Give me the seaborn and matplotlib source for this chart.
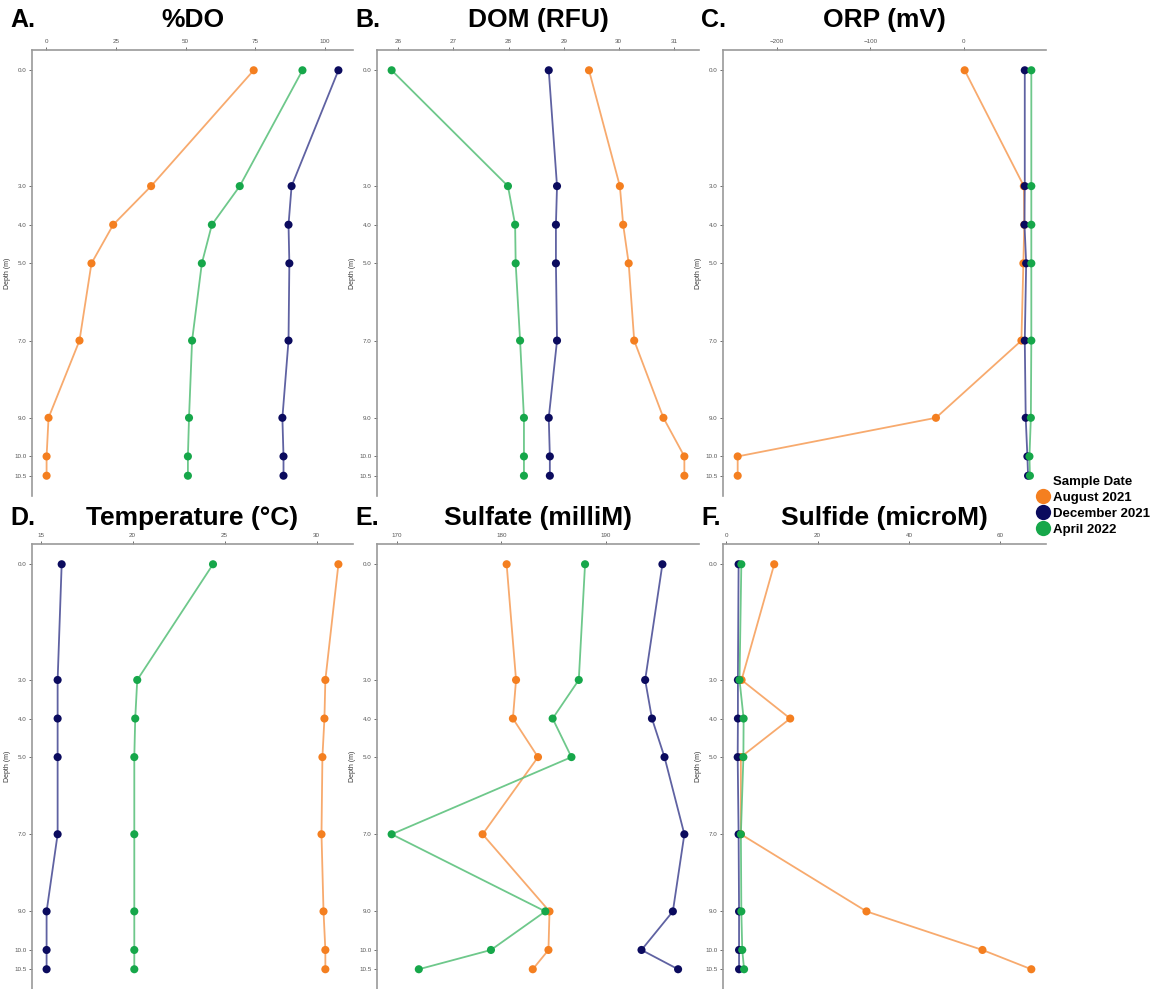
import matplotlib
matplotlib.use("Agg")
import matplotlib.pyplot as plt
from matplotlib.lines import Line2D
import seaborn as sns
import pandas as pd
import numpy as np

depth = [0.0, 3.0, 4.0, 5.0, 7.0, 9.0, 10.0, 10.5]
dates = ["August 2021", "December 2021", "April 2022"]

do_aug = [74.4, 37.6, 24.0, 16.2, 11.9, 0.8, 0.1, 0.1]
do_dec = [104.8, 88.0, 86.9, 87.2, 86.9, 84.7, 85.1, 85.1]
do_apr = [91.9, 69.4, 59.4, 55.8, 52.3, 51.2, 50.8, 50.8]

dom_aug = [29.46, 30.02, 30.08, 30.18, 30.28, 30.81, 31.19, 31.19]
dom_dec = [28.73, 28.88, 28.86, 28.86, 28.88, 28.73, 28.75, 28.75]
dom_apr = [25.88, 27.99, 28.12, 28.13, 28.21, 28.28, 28.28, 28.28]

orp_aug = [0.7, 64.0, 64.5, 63.5, 61.4, -30.0, -242.0, -242.0]
orp_dec = [65.0, 65.0, 64.7, 66.5, 65.0, 66.0, 67.8, 68.5]
orp_apr = [72.0, 72.0, 72.0, 72.0, 72.0, 71.5, 70.0, 70.5]

temp_aug = [31.19, 30.48, 30.43, 30.32, 30.27, 30.38, 30.48, 30.48]
temp_dec = [16.14, 15.92, 15.92, 15.92, 15.92, 15.32, 15.32, 15.32]
temp_apr = [24.37, 20.25, 20.14, 20.09, 20.09, 20.09, 20.09, 20.09]

sulfate_aug = [180.5, 181.4, 181.1, 183.5, 178.2, 184.6, 184.5, 183.0]
sulfate_dec = [195.4, 193.75, 194.4, 195.6, 197.5, 196.4, 193.4, 196.9]
sulfate_apr = [188.0, 187.4, 184.9, 186.7, 169.5, 184.2, 179.0, 172.1]

sulfide_aug = [10.5, 3.35, 14.0, 3.2, 3.2, 30.7, 56.1, 66.8]
sulfide_dec = [2.7, 2.55, 2.55, 2.5, 2.7, 2.8, 2.8, 2.8]
sulfide_apr = [3.3, 2.9, 3.8, 3.75, 3.2, 3.3, 3.5, 3.9]

panel_letters = ["A.", "B.", "C.", "D.", "E.", "F."]
panel_titles = ["%DO", "DOM (RFU)", "ORP (mV)", "Temperature (°C)", "Sulfate (milliM)", "Sulfide (microM)"]
panel_series = [
    (do_aug, do_dec, do_apr),
    (dom_aug, dom_dec, dom_apr),
    (orp_aug, orp_dec, orp_apr),
    (temp_aug, temp_dec, temp_apr),
    (sulfate_aug, sulfate_dec, sulfate_apr),
    (sulfide_aug, sulfide_dec, sulfide_apr),
]
panel_xticks = [
    [0, 25, 50, 75, 100],
    [26, 27, 28, 29, 30, 31],
    [-200, -100, 0],
    [15, 20, 25, 30],
    [170, 180, 190],
    [0, 20, 40, 60],
]

marker_colors = {"August 2021": "#F47F20", "December 2021": "#0B0B5E", "April 2022": "#16A74A"}
line_colors = {"August 2021": "#F7A15E", "December 2021": "#4E5198", "April 2022": "#5EC27E"}

sns.set_theme(style="white")
plt.rcParams["font.family"] = ["Liberation Sans", "DejaVu Sans"]
plt.rcParams["text.color"] = "black"

W, H = 1164, 989
fig = plt.figure(figsize=(W / 100, H / 100), dpi=100)

lefts = [32, 377, 723]
widths = [321, 322, 323]
rows = [(50, 496), (544, 989.5)]

for i in range(6):
    r, c = divmod(i, 3)
    top, bot = rows[r]
    ax = fig.add_axes([lefts[c] / W, 1 - bot / H, widths[c] / W, (bot - top) / H])
    recs = []
    for d, vals in zip(dates, panel_series[i]):
        for dep, v in zip(depth, vals):
            recs.append({"Depth": dep, "Value": v, "Date": d})
    df = pd.DataFrame(recs)
    sns.lineplot(data=df, x="Value", y="Depth", hue="Date", hue_order=dates,
                 palette=line_colors, orient="y", sort=True, estimator=None,
                 linewidth=1.3, alpha=0.9, legend=False, ax=ax)
    sns.scatterplot(data=df, x="Value", y="Depth", hue="Date", hue_order=dates,
                    palette=marker_colors, s=34, linewidth=0, legend=False,
                    ax=ax, zorder=3)
    ax.set_ylim(11.025, -0.525)
    ax.set_yticks(depth)
    ax.set_yticklabels([f"{d:.1f}" for d in depth])
    ax.set_xticks(panel_xticks[i])
    ax.xaxis.tick_top()
    ax.tick_params(axis="both", labelsize=4.5, colors="#555555", length=2,
                   width=0.6, pad=2)
    ax.tick_params(axis="x", top=True, bottom=False)
    ax.tick_params(axis="y", left=True)
    for s in ["right", "bottom"]:
        ax.spines[s].set_visible(False)
    for s in ["left", "top"]:
        ax.spines[s].set_visible(True)
        ax.spines[s].set_color("#9a9a9a")
        ax.spines[s].set_linewidth(1.2)
    ax.set_xlabel("")
    ax.set_ylabel("Depth (m)", fontsize=5, color="#333333", labelpad=2)
    ax.grid(False)
    ty = 20 if r == 0 else 518
    fig.text((lefts[c] - 22) / W, 1 - ty / H, panel_letters[i], fontsize=18,
             fontweight="bold", va="center", ha="left", color="black")
    fig.text((lefts[c] + widths[c] / 2) / W, 1 - ty / H, panel_titles[i],
             fontsize=19, fontweight="bold", va="center", ha="center",
             color="black")

handles = [Line2D([0], [0], marker="o", linestyle="", markersize=11,
                  markerfacecolor=marker_colors[d], markeredgewidth=0, label=d)
           for d in dates]
leg = fig.legend(handles=handles, title="Sample Date", loc="upper left",
                 bbox_to_anchor=(1036 / W, 1 - 476 / H), frameon=False,
                 prop={"weight": "bold", "size": 9.5}, handletextpad=0.3,
                 labelspacing=0.28, borderaxespad=0, handlelength=1.0,
                 borderpad=0)
leg.get_title().set_fontweight("bold")
leg.get_title().set_fontsize(9.5)
leg.get_title().set_color("black")
leg._legend_box.align = "center"
for t in leg.get_texts():
    t.set_color("black")

fig.savefig("out.png", dpi=100)
